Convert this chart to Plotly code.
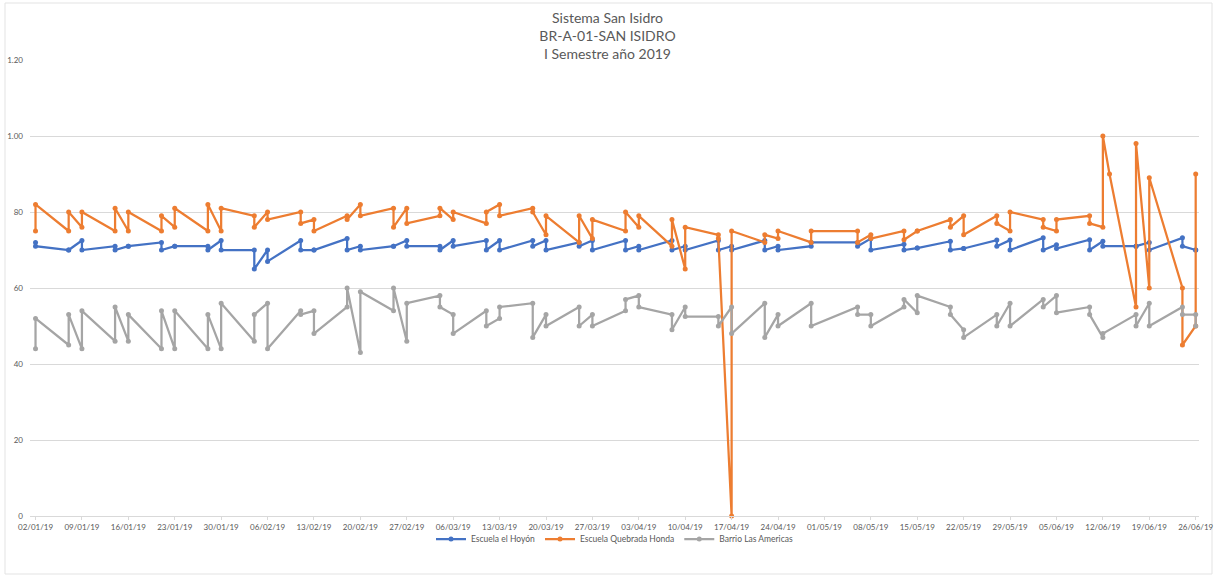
import plotly.graph_objects as go
import pandas as pd

# Sampling dates (two readings per date)
sample_dates = [
    "2019-01-02", "2019-01-07", "2019-01-09", "2019-01-14", "2019-01-16", "2019-01-21", "2019-01-23",
    "2019-01-28", "2019-01-30", "2019-02-04", "2019-02-06", "2019-02-11", "2019-02-13", "2019-02-18",
    "2019-02-20", "2019-02-25", "2019-02-27", "2019-03-04", "2019-03-06", "2019-03-11", "2019-03-13",
    "2019-03-18", "2019-03-20", "2019-03-25", "2019-03-27", "2019-04-01", "2019-04-03", "2019-04-08",
    "2019-04-10", "2019-04-15", "2019-04-17", "2019-04-22", "2019-04-24", "2019-04-29", "2019-05-06",
    "2019-05-08", "2019-05-13", "2019-05-15", "2019-05-20", "2019-05-22", "2019-05-27", "2019-05-29",
    "2019-06-03", "2019-06-05", "2019-06-10", "2019-06-12", "2019-06-17", "2019-06-19", "2019-06-24",
    "2019-06-26",
]

# Escuela el Hoyón (pairs of readings per date)
hoyon = [
    (0.72, 0.71), (0.70, 0.70), (0.725, 0.70), (0.71, 0.70), (0.71, 0.71), (0.72, 0.70), (0.71, 0.71),
    (0.71, 0.70), (0.725, 0.70), (0.70, 0.65), (0.70, 0.67), (0.725, 0.70), (0.70, 0.70), (0.73, 0.70),
    (0.71, 0.70), (0.71, 0.71), (0.725, 0.71), (0.71, 0.70), (0.725, 0.71), (0.725, 0.70), (0.725, 0.70),
    (0.725, 0.71), (0.725, 0.70), (0.72, 0.71), (0.725, 0.70), (0.725, 0.70), (0.71, 0.70), (0.725, 0.70),
    (0.71, 0.70), (0.725, 0.70), (0.71, 0.70), (0.725, 0.70), (0.71, 0.70), (0.71, 0.72), (0.72, 0.71),
    (0.73, 0.70), (0.715, 0.70), (0.705, 0.705), (0.723, 0.70), (0.704, 0.704), (0.726, 0.71), (0.726, 0.70),
    (0.732, 0.70), (0.714, 0.704), (0.727, 0.70), (0.723, 0.71), (0.71, 0.71), (0.72, 0.70), (0.732, 0.71),
    (0.70, 0.70),
]

# Escuela Quebrada Honda (own dates: includes an extra reading on 13/06)
quebrada_dates = sample_dates[:46] + ["2019-06-13"] + sample_dates[46:]
quebrada = [
    (0.75, 0.82), (0.75, 0.80), (0.76, 0.80), (0.75, 0.81), (0.75, 0.80), (0.75, 0.79), (0.76, 0.81),
    (0.75, 0.82), (0.75, 0.81), (0.79, 0.76), (0.80, 0.78), (0.80, 0.77), (0.78, 0.75), (0.79, 0.78),
    (0.82, 0.79), (0.81, 0.76), (0.81, 0.77), (0.79, 0.81), (0.78, 0.80), (0.77, 0.80), (0.82, 0.79),
    (0.81, 0.80), (0.74, 0.79), (0.72, 0.79), (0.73, 0.78), (0.75, 0.80), (0.76, 0.79), (0.71, 0.78),
    (0.65, 0.76), (0.74, 0.73), (0.00, 0.75), (0.72, 0.74), (0.73, 0.75), (0.72, 0.75), (0.75, 0.72),
    (0.74, 0.73), (0.75, 0.727), (0.75, 0.75), (0.78, 0.76), (0.79, 0.74), (0.79, 0.77), (0.75, 0.80),
    (0.78, 0.76), (0.75, 0.78), (0.79, 0.77), (0.76, 1.00), (0.90,), (0.55, 0.98), (0.60, 0.89),
    (0.60, 0.45), (0.50, 0.90),
]

# Barrio Las Americas
americas = [
    (0.44, 0.52), (0.45, 0.53), (0.44, 0.54), (0.46, 0.55), (0.46, 0.53), (0.44, 0.54), (0.44, 0.54),
    (0.44, 0.53), (0.44, 0.56), (0.46, 0.53), (0.56, 0.44), (0.54, 0.53), (0.54, 0.48), (0.55, 0.60),
    (0.43, 0.59), (0.54, 0.60), (0.46, 0.56), (0.58, 0.55), (0.53, 0.48), (0.54, 0.50), (0.52, 0.55),
    (0.56, 0.47), (0.53, 0.50), (0.55, 0.50), (0.53, 0.50), (0.54, 0.57), (0.58, 0.55), (0.53, 0.49),
    (0.55, 0.525), (0.525, 0.50), (0.55, 0.48), (0.56, 0.47), (0.53, 0.50), (0.56, 0.50), (0.55, 0.53),
    (0.53, 0.50), (0.55, 0.57), (0.535, 0.58), (0.55, 0.53), (0.49, 0.47), (0.53, 0.50), (0.56, 0.50),
    (0.57, 0.55), (0.58, 0.535), (0.55, 0.53), (0.47, 0.48), (0.53, 0.50), (0.56, 0.50), (0.55, 0.53),
    (0.53, 0.50),
]

series_names = ["Escuela el Hoyón", "Escuela Quebrada Honda", "Barrio Las Americas"]
series_colors = ["#4472C4", "#ED7D31", "#A5A5A5"]

y_tickvals = [0, 0.2, 0.4, 0.6, 0.8, 1.0, 1.2]
y_ticktext = ["0", "20", "40", "60", "80", "1.00", "1.20"]


def flatten(dates, pairs):
    xs, ys = [], []
    for d, p in zip(dates, pairs):
        for v in p:
            xs.append(pd.Timestamp(d))
            ys.append(v)
    return xs, ys


fig = go.Figure()
for name, color, dates, pairs in [
    (series_names[0], series_colors[0], sample_dates, hoyon),
    (series_names[1], series_colors[1], quebrada_dates, quebrada),
    (series_names[2], series_colors[2], sample_dates, americas),
]:
    xs, ys = flatten(dates, pairs)
    fig.add_trace(go.Scatter(
        x=xs, y=ys, name=name, mode="lines+markers",
        line=dict(color=color, width=2.25),
        marker=dict(color=color, size=5),
        cliponaxis=False,
    ))

W, H = 1215, 577
ml, mr, mt, mb = 30, 16, 60, 61
pw, ph = W - ml - mr, H - mt - mb

fig.update_layout(
    width=W, height=H,
    margin=dict(l=ml, r=mr, t=mt, b=mb, autoexpand=False),
    paper_bgcolor="white", plot_bgcolor="white",
    font=dict(family="Lato, Open Sans, sans-serif", color="#595959", size=9),
    title=dict(
        text="Sistema San Isidro<br>BR-A-01-SAN ISIDRO<br>I Semestre año 2019",
        x=0.5, xanchor="center", y=1 - 23 / H, yanchor="top",
        font=dict(size=14, color="#595959", family="Lato, Open Sans, sans-serif"),
    ),
    xaxis=dict(
        type="date",
        range=["2019-01-01 04:00", "2019-06-26 12:00"],
        tick0="2019-01-02", dtick=7 * 24 * 3600 * 1000,
        tickformat="%d/%m/%y",
        showgrid=False, showline=True, linecolor="#D9D9D9", linewidth=1,
        ticks="outside", ticklen=3, tickcolor="#D9D9D9",
        tickfont=dict(size=8, color="#595959"),
        ticklabeloverflow="allow",
        zeroline=False, automargin=False,
    ),
    yaxis=dict(
        range=[0, 1.2],
        tickvals=y_tickvals, ticktext=y_ticktext,
        showgrid=True, gridcolor="#D9D9D9", gridwidth=1,
        showline=False, zeroline=False,
        tickfont=dict(size=8, color="#595959"),
        ticklabelstandoff=6, automargin=False,
    ),
    legend=dict(
        orientation="h", x=0.5, xanchor="center",
        y=-(539 - (H - mb)) / ph, yanchor="middle",
        font=dict(size=8.5, color="#595959"),
        bgcolor="rgba(0,0,0,0)",
        itemwidth=30,
    ),
    showlegend=True,
)

# light chart border (Excel-style chart area outline)
fig.add_shape(
    type="rect", xref="paper", yref="paper",
    x0=(5 - ml) / pw, x1=(W - 3 - ml) / pw,
    y0=-(H - 3 - (H - mb)) / ph, y1=((H - mb) - 3) / ph,
    line=dict(color="#E3E3E3", width=1), fillcolor="rgba(0,0,0,0)", layer="below",
)

fig.write_html(
    "out.html",
    config={"displayModeBar": False},
    post_script="document.body.style.margin='0px';",
)
